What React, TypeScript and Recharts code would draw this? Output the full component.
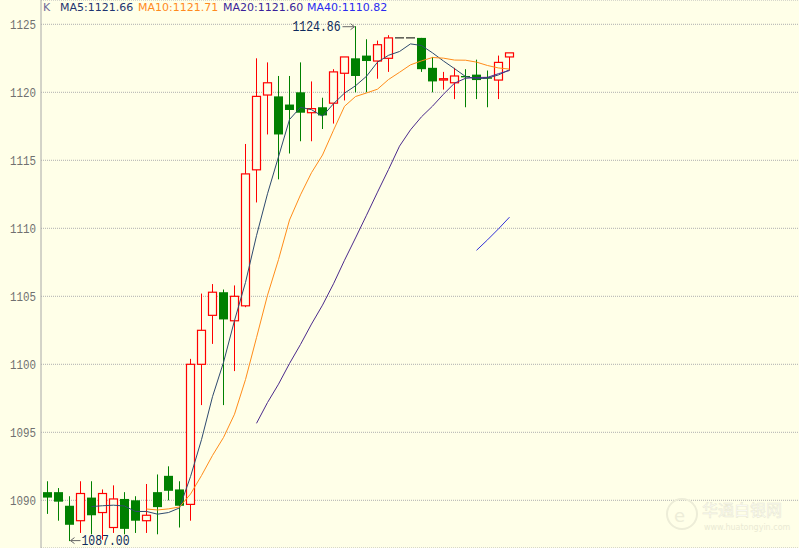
import React from "react";
import { ComposedChart, Bar, Line, XAxis, YAxis, CartesianGrid } from "recharts";

// 43 trading slots drawn, the rest of the axis is left empty
const SLOT_COUNT = 69;

const opens = [
	1090.6, 1090.6, 1089.6, 1088.5, 1090.2, 1089.1, 1088.0, 1090.1, 1090.0, 1088.5,
	1090.6, 1091.8, 1090.8, 1089.7, 1100.0, 1103.6, 1105.3, 1103.2, 1104.3, 1114.3,
	1119.8, 1119.7, 1119.1, 1120.0, 1118.5, 1118.9, 1119.2, 1121.4, 1122.5, 1122.7,
	1122.3, 1122.5, 1124.0, 1124.0, 1124.0, 1121.8, 1120.9, 1120.7, 1121.2, 1121.3,
	1121.1, 1120.9, 1122.6,
];
const highs = [
	1091.4, 1090.9, 1090.3, 1091.4, 1091.4, 1090.8, 1091.1, 1090.6, 1090.3, 1091.2,
	1091.9, 1092.5, 1091.4, 1100.4, 1105.2, 1105.9, 1105.5, 1105.8, 1116.2, 1122.5,
	1122.2, 1121.2, 1121.2, 1122.2, 1120.8, 1119.6, 1121.7, 1122.6, 1124.86, 1123.9,
	1123.8, 1124.2, 1124.0, 1124.0, 1124.0, 1122.6, 1121.5, 1121.8, 1121.7, 1122.4,
	1121.6, 1122.7, 1122.9,
];
const lows = [
	1089.0, 1088.5, 1087.0, 1087.6, 1087.5, 1087.1, 1087.6, 1087.5, 1087.6, 1087.6,
	1087.5, 1090.0, 1088.0, 1088.5, 1097.0, 1101.5, 1097.0, 1099.5, 1104.2, 1111.9,
	1116.9, 1113.6, 1115.5, 1116.4, 1116.4, 1117.3, 1117.7, 1119.4, 1120.0, 1120.0,
	1121.0, 1121.5, 1124.0, 1124.0, 1121.5, 1120.0, 1120.2, 1119.5, 1118.9, 1119.5,
	1118.9, 1119.5, 1121.6,
];
const closes = [
	1090.2, 1089.9, 1088.2, 1090.5, 1088.9, 1090.5, 1090.1, 1087.9, 1088.5, 1088.9,
	1089.5, 1090.7, 1089.6, 1100.0, 1102.5, 1105.3, 1103.3, 1105.0, 1114.0, 1119.7,
	1120.7, 1116.9, 1118.7, 1118.5, 1118.8, 1118.3, 1121.5, 1122.6, 1121.2, 1122.3,
	1123.5, 1124.0, 1124.0, 1124.0, 1121.7, 1120.8, 1121.0, 1121.2, 1121.1, 1120.9,
	1121.0, 1122.2, 1122.9,
];

// moving averages, each list starts at its own slot
const MA5_START = 4;
const ma5 = [
	1089.54, 1089.6, 1089.64, 1089.58, 1089.18, 1089.18, 1088.98, 1089.1, 1089.44, 1091.74,
	1094.46, 1097.62, 1100.14, 1103.22, 1106.02, 1109.46, 1112.54, 1115.26, 1118.0, 1118.9,
	1118.72, 1118.24, 1119.16, 1119.94, 1120.48, 1121.18, 1122.22, 1122.72, 1123.0, 1123.56,
	1123.44, 1122.9, 1122.3, 1121.74, 1121.16, 1121.0, 1121.04, 1121.28, 1121.66,
];
const MA10_START = 9;
const ma10 = [
	1089.36, 1089.29, 1089.37, 1089.51, 1090.46, 1091.82, 1093.3, 1094.62, 1096.33, 1098.88,
	1101.96, 1105.08, 1107.7, 1110.61, 1112.46, 1114.09, 1115.39, 1117.21, 1118.97, 1119.69,
	1119.95, 1120.23, 1120.94, 1121.47, 1122.02, 1122.31, 1122.56, 1122.51, 1122.37, 1122.36,
	1122.22, 1121.97, 1121.79, 1121.71,
];
const MA20_START = 19;
const ma20 = [
	1095.66, 1097.19, 1098.54, 1100.06, 1101.46, 1102.96, 1104.35, 1105.92, 1107.65, 1109.29,
	1110.96, 1112.66, 1114.32, 1116.04, 1117.24, 1118.2, 1118.98, 1119.86, 1120.67, 1121.03,
	1121.09, 1121.1, 1121.37, 1121.6,
];
const MA40_START = 39;
const ma40 = [1108.38, 1109.15, 1109.96, 1110.82];

const yTicks = [1090, 1095, 1100, 1105, 1110, 1115, 1120, 1125];

const BG = "#FFFFE8";
const UP = "#FF0000";
const DOWN = "#008000";
const MA5_COLOR = "#2E4A6E";
const MA10_COLOR = "#FF8C1A";
const MA20_COLOR = "#4B2A8C";
const MA40_COLOR = "#3030D8";

const hiIndex = highs.indexOf(Math.max(...highs));
const loIndex = lows.indexOf(Math.min(...lows));

const pick = (arr: number[], start: number, i: number) =>
	i >= start && i - start < arr.length ? arr[i - start] : undefined;

const data = Array.from({ length: SLOT_COUNT }, (_, i) => {
	const row: any = { slot: i };
	if (i < closes.length) {
		row.open = opens[i];
		row.high = highs[i];
		row.low = lows[i];
		row.close = closes[i];
		row.range = [lows[i], highs[i]];
	}
	row.ma5 = pick(ma5, MA5_START, i);
	row.ma10 = pick(ma10, MA10_START, i);
	row.ma20 = pick(ma20, MA20_START, i);
	row.ma40 = pick(ma40, MA40_START, i);
	return row;
});

const Arrow = ({ x1, x2, y }: { x1: number; x2: number; y: number }) => {
	const dir = x2 > x1 ? 1 : -1;
	return (
		<g stroke="#666" strokeWidth={1} fill="none">
			<line x1={x1} y1={y} x2={x2} y2={y} />
			<path d={`M${x2 - dir * 4},${y - 3} L${x2},${y} L${x2 - dir * 4},${y + 3}`} />
		</g>
	);
};

const Candle = (props: any) => {
	const { x, y, width, height, payload } = props;
	if (!payload || payload.range == null) return null;
	const { open, close, high, low, slot } = payload;
	const cx = x + width / 2;
	const extra: React.ReactNode[] = [];

	if (slot === hiIndex) {
		extra.push(
			<g key="hi">
				<Arrow x1={cx - 13} x2={cx - 1} y={y + 0.5} />
				<text
					x={cx - 15}
					y={y + 5}
					textAnchor="end"
					fontFamily="Liberation Mono"
					fontSize={14}
					textLength={48}
					lengthAdjust="spacingAndGlyphs"
					fill="#0E2A5C"
				>
					{high.toFixed(2)}
				</text>
			</g>
		);
	}
	if (slot === loIndex) {
		extra.push(
			<g key="lo">
				<Arrow x1={cx + 11} x2={cx + 1} y={y + height - 0.5} />
				<text
					x={cx + 12}
					y={y + height + 4}
					fontFamily="Liberation Mono"
					fontSize={14}
					textLength={48}
					lengthAdjust="spacingAndGlyphs"
					fill="#0E2A5C"
				>
					{low.toFixed(2)}
				</text>
			</g>
		);
	}

	// flat bar: no range to scale, just a dash
	if (high === low) {
		return (
			<g>
				<line x1={x} y1={y} x2={x + width} y2={y} stroke="#000" strokeWidth={1} />
				{extra}
			</g>
		);
	}

	const k = height / (high - low);
	const py = (v: number) => y + (high - v) * k;

	if (close >= open) {
		const top = py(close);
		const bot = py(open);
		return (
			<g>
				<line x1={cx} y1={y} x2={cx} y2={top} stroke={UP} />
				<line x1={cx} y1={bot} x2={cx} y2={y + height} stroke={UP} />
				<rect
					x={x + 0.5}
					y={top}
					width={width - 1}
					height={Math.max(bot - top, 1)}
					fill={BG}
					stroke={UP}
					strokeWidth={1.2}
				/>
				{extra}
			</g>
		);
	}
	const top = py(open);
	const bot = py(close);
	return (
		<g>
			<line x1={cx} y1={y} x2={cx} y2={y + height} stroke={DOWN} />
			<rect x={x} y={top} width={width} height={Math.max(bot - top, 1)} fill={DOWN} />
			{extra}
		</g>
	);
};

const YTick = ({ x, y, payload }: any) => (
	<text
		x={x}
		y={y}
		dy={4.5}
		textAnchor="end"
		fontFamily="Liberation Mono"
		fontSize={12}
		textLength={26}
		lengthAdjust="spacingAndGlyphs"
		fill="#707070"
	>
		{payload.value}
	</text>
);

const legend = [
	{ text: "K", color: "#6E6A9A", left: 43 },
	{ text: `MA5:${ma5[ma5.length - 1].toFixed(2)}`, color: "#1F3470", left: 60 },
	{ text: `MA10:${ma10[ma10.length - 1].toFixed(2)}`, color: "#FF8A1E", left: 138 },
	{ text: `MA20:${ma20[ma20.length - 1].toFixed(2)}`, color: "#3A1F9A", left: 223 },
	{ text: `MA40:${ma40[ma40.length - 1].toFixed(2)}`, color: "#2A2AF0", left: 307 },
];

export default function App() {
	return (
		<div
			style={{
				position: "fixed",
				left: 0,
				top: 0,
				width: 799,
				height: 548,
				overflow: "hidden",
				background: BG,
			}}
		>
			<div style={{ position: "absolute", left: 0, top: 0 }}>
				<ComposedChart
					width={801}
					height={548}
					data={data}
					margin={{ top: 0, right: 0, bottom: 0, left: 0 }}
				>
					<CartesianGrid
						vertical={false}
						stroke="#B0B0B0"
						strokeDasharray="1 1"
					/>
					<XAxis dataKey="slot" hide padding={{ left: 1, right: 0 }} />
					<YAxis
						width={41}
						domain={[1086.493, 1126.787]}
						ticks={yTicks}
						allowDataOverflow
						tickLine={false}
						tickSize={3}
						tickMargin={2}
						axisLine={{ stroke: "#A8A8A8" }}
						tick={<YTick />}
					/>
					<Bar
						dataKey="range"
						barSize={9}
						shape={<Candle />}
						isAnimationActive={false}
					/>
					<Line dataKey="ma5" stroke={MA5_COLOR} dot={false} activeDot={false} strokeWidth={1} isAnimationActive={false} />
					<Line dataKey="ma10" stroke={MA10_COLOR} dot={false} activeDot={false} strokeWidth={1} isAnimationActive={false} />
					<Line dataKey="ma20" stroke={MA20_COLOR} dot={false} activeDot={false} strokeWidth={1} isAnimationActive={false} />
					<Line dataKey="ma40" stroke={MA40_COLOR} dot={false} activeDot={false} strokeWidth={1} isAnimationActive={false} />
				</ComposedChart>
			</div>
			{legend.map((l) => (
				<span
					key={l.text}
					style={{
						position: "absolute",
						left: l.left,
						top: 0,
						lineHeight: "15px",
						fontFamily: "DejaVu Sans",
						fontSize: 11,
						color: l.color,
						whiteSpace: "nowrap",
					}}
				>
					{l.text}
				</span>
			))}
			{/* faint watermark, bottom right */}
			<svg
				width={140}
				height={50}
				style={{ position: "absolute", left: 662, top: 492 }}
			>
				<circle cx={20} cy={22} r={15} fill="none" stroke="#EDEDD8" strokeWidth={2} />
				<text x={12} y={30} fontSize={18} fontFamily="DejaVu Sans" fill="#EDEDD8">
					e
				</text>
				<text x={40} y={24} fontSize={16} fontFamily="Noto Sans CJK SC" fill="#FFFFFF" stroke="#EAEAD4" strokeWidth={0.6}>
					华通白银网
				</text>
				<text x={42} y={38} fontSize={8} fontFamily="DejaVu Sans" fill="#EAEAD4">
					www.huatongyin.com
				</text>
			</svg>
		</div>
	);
}
